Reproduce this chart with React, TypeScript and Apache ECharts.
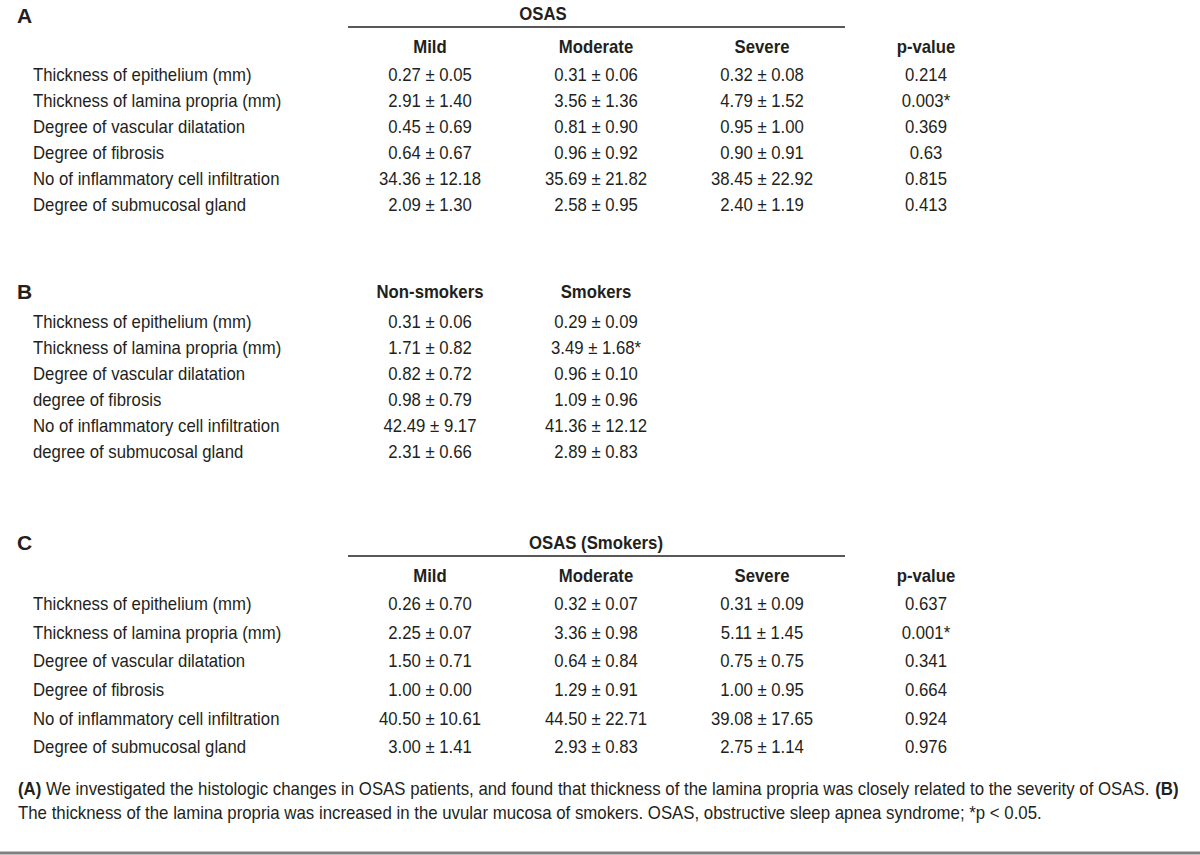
import React, { useEffect, useRef } from "react";
import * as echarts from "echarts";

const rowsA = [
  "Thickness of epithelium (mm)",
  "Thickness of lamina propria (mm)",
  "Degree of vascular dilatation",
  "Degree of fibrosis",
  "No of inflammatory cell infiltration",
  "Degree of submucosal gland",
];
const colsA = ["Mild", "Moderate", "Severe", "p-value"];
const mildA = ["0.27 ± 0.05", "2.91 ± 1.40", "0.45 ± 0.69", "0.64 ± 0.67", "34.36 ± 12.18", "2.09 ± 1.30"];
const moderateA = ["0.31 ± 0.06", "3.56 ± 1.36", "0.81 ± 0.90", "0.96 ± 0.92", "35.69 ± 21.82", "2.58 ± 0.95"];
const severeA = ["0.32 ± 0.08", "4.79 ± 1.52", "0.95 ± 1.00", "0.90 ± 0.91", "38.45 ± 22.92", "2.40 ± 1.19"];
const pA = ["0.214", "0.003*", "0.369", "0.63", "0.815", "0.413"];

const rowsB = [
  "Thickness of epithelium (mm)",
  "Thickness of lamina propria (mm)",
  "Degree of vascular dilatation",
  "degree of fibrosis",
  "No of inflammatory cell infiltration",
  "degree of submucosal gland",
];
const colsB = ["Non-smokers", "Smokers"];
const nonSmokersB = ["0.31 ± 0.06", "1.71 ± 0.82", "0.82 ± 0.72", "0.98 ± 0.79", "42.49 ± 9.17", "2.31 ± 0.66"];
const smokersB = ["0.29 ± 0.09", "3.49 ± 1.68*", "0.96 ± 0.10", "1.09 ± 0.96", "41.36 ± 12.12", "2.89 ± 0.83"];

const rowsC = rowsA;
const colsC = ["Mild", "Moderate", "Severe", "p-value"];
const mildC = ["0.26 ± 0.70", "2.25 ± 0.07", "1.50 ± 0.71", "1.00 ± 0.00", "40.50 ± 10.61", "3.00 ± 1.41"];
const moderateC = ["0.32 ± 0.07", "3.36 ± 0.98", "0.64 ± 0.84", "1.29 ± 0.91", "44.50 ± 22.71", "2.93 ± 0.83"];
const severeC = ["0.31 ± 0.09", "5.11 ± 1.45", "0.75 ± 0.75", "1.00 ± 0.95", "39.08 ± 17.65", "2.75 ± 1.14"];
const pC = ["0.637", "0.001*", "0.341", "0.664", "0.924", "0.976"];

const footLine1Parts = [
  { t: "(A)", b: true },
  { t: " We investigated the histologic changes in OSAS patients, and found that thickness of the lamina propria was closely related to the severity of OSAS. ", b: false },
  { t: "(B)", b: true },
];
const footLine2 = "The thickness of the lamina propria was increased in the uvular mucosa of smokers. OSAS, obstructive sleep apnea syndrome; *p < 0.05.";

const FONT = '"Liberation Sans Narrow", "Arial Narrow", "Liberation Sans", Arial, sans-serif';
const INK = "#231f20";
const SX = 0.93;

export default function App() {
  const ref = useRef<HTMLDivElement>(null);
  useEffect(() => {
    document.body.style.margin = "0";
    const chart = echarts.init(ref.current!, null, { renderer: "svg" });
    const els: any[] = [];
    const txt = (x: number, y: number, text: string, opts: any = {}) => {
      els.push({
        type: "text",
        x,
        y,
        scaleX: opts.sx ?? SX,
        style: {
          text,
          fill: INK,
          font: `${opts.bold ? "bold " : ""}${opts.size || 18}px ${FONT}`,
          align: opts.align || "left",
          verticalAlign: "middle",
        },
      });
    };
    const line = (x1: number, x2: number, y: number, w = 1.5, c = INK) => {
      els.push({ type: "line", shape: { x1, y1: y, x2, y2: y }, style: { stroke: c, lineWidth: w } });
    };
    const colX = [430, 596, 762, 926];
    const labelX = 33;

    // Panel A
    txt(17, 15.5, "A", { bold: true, size: 21, sx: 1 });
    txt(543, 14, "OSAS", { bold: true, align: "center" });
    line(348, 845, 27);
    colsA.forEach((c, i) => txt(colX[i], 47, c, { bold: true, align: "center" }));
    const yA = [75, 101, 127, 153, 179, 205];
    rowsA.forEach((r, i) => {
      txt(labelX, yA[i], r);
      txt(colX[0], yA[i], mildA[i], { align: "center" });
      txt(colX[1], yA[i], moderateA[i], { align: "center" });
      txt(colX[2], yA[i], severeA[i], { align: "center" });
      txt(colX[3], yA[i], pA[i], { align: "center" });
    });

    // Panel B
    txt(17, 291, "B", { bold: true, size: 21, sx: 1 });
    colsB.forEach((c, i) => txt(colX[i], 292, c, { bold: true, align: "center" }));
    const yB = [322, 348, 374, 400, 426, 452];
    rowsB.forEach((r, i) => {
      txt(labelX, yB[i], r);
      txt(colX[0], yB[i], nonSmokersB[i], { align: "center" });
      txt(colX[1], yB[i], smokersB[i], { align: "center" });
    });

    // Panel C
    txt(17, 542, "C", { bold: true, size: 21, sx: 1 });
    txt(596, 543, "OSAS (Smokers)", { bold: true, align: "center" });
    line(348, 845, 556);
    colsC.forEach((c, i) => txt(colX[i], 576, c, { bold: true, align: "center" }));
    const yC = [604, 633, 661, 690, 719, 747];
    rowsC.forEach((r, i) => {
      txt(labelX, yC[i], r);
      txt(colX[0], yC[i], mildC[i], { align: "center" });
      txt(colX[1], yC[i], moderateC[i], { align: "center" });
      txt(colX[2], yC[i], severeC[i], { align: "center" });
      txt(colX[3], yC[i], pC[i], { align: "center" });
    });

    // Footnote
    els.push({
      type: "text",
      x: 18,
      y: 789,
      scaleX: 0.935,
      style: {
        text: footLine1Parts.map((p) => (p.b ? `{b|${p.t}}` : `{n|${p.t}}`)).join(""),
        verticalAlign: "middle",
        rich: {
          b: { font: `bold 18px ${FONT}`, fill: INK },
          n: { font: `18px ${FONT}`, fill: INK },
        },
      },
    });
    txt(18, 813, footLine2, { size: 18, sx: 0.935 });
    line(0, 1200, 853, 3, "#808080");

    chart.setOption({ animation: false, graphic: { elements: els } });
    return () => chart.dispose();
  }, []);
  return <div ref={ref} style={{ width: 1200, height: 855, background: "#fff" }} />;
}
